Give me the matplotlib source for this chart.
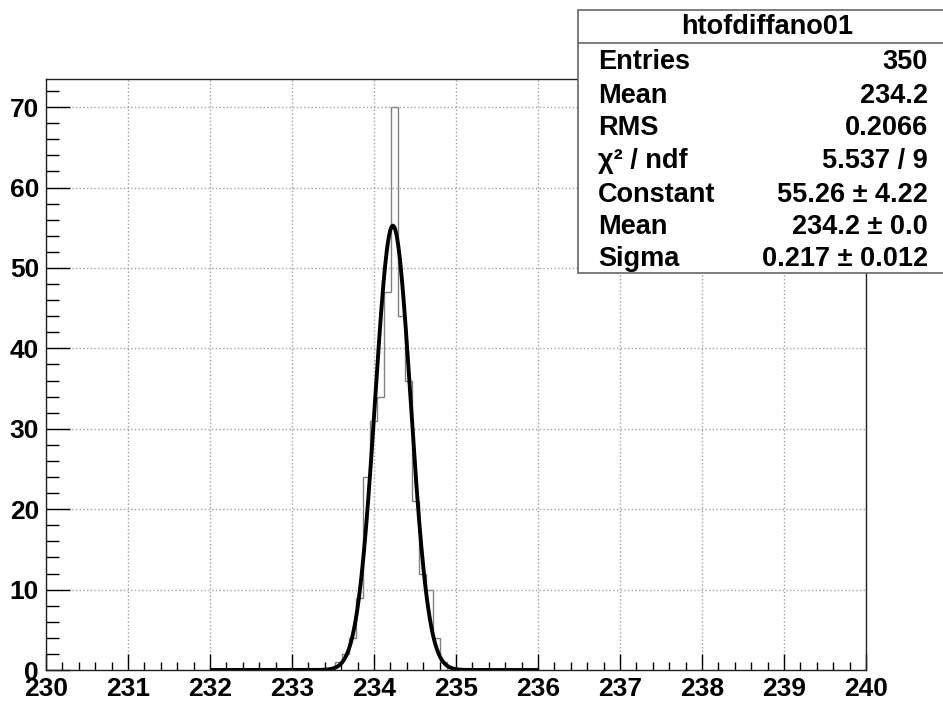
import numpy as np
import matplotlib
matplotlib.use("Agg")
import matplotlib.pyplot as plt
from matplotlib.patches import Rectangle
from matplotlib.ticker import MultipleLocator

plt.rcParams['font.family'] = ['Liberation Sans', 'DejaVu Sans']
plt.rcParams['font.weight'] = 'bold'

# histogram htofdiffano01
hist_name = "htofdiffano01"
bin_low = 233.52          # lower edge of first filled bin
bin_width = 0.086
counts = [1, 2, 4, 9, 24, 31, 34, 47, 70, 44, 36, 21, 12, 10, 4, 1]

# gaussian fit result
fit_const = 55.26
fit_const_err = 4.22
fit_mean = 234.23
fit_mean_err = 0.0
fit_sigma = 0.217
fit_sigma_err = 0.012
fit_range = (232.0, 236.0)
chi2, ndf = 5.537, 9

# stats box entries
stat_labels = ["Entries", "Mean", "RMS", "\u03c7\u00b2 / ndf", "Constant", "Mean", "Sigma"]
stat_values = ["350", "234.2", "0.2066", "%.3f / %d" % (chi2, ndf),
               "%.2f \u00b1 %.2f" % (fit_const, fit_const_err),
               "%.1f \u00b1 %.1f" % (fit_mean, fit_mean_err),
               "%.3f \u00b1 %.3f" % (fit_sigma, fit_sigma_err)]

W, H = 943, 704
fig = plt.figure(figsize=(W / 100, H / 100), dpi=100)
ax = fig.add_axes([46 / W, 1 - 670 / H, (866 - 46) / W, (670 - 79) / H])

edges = bin_low + bin_width * np.arange(len(counts) + 1)
ax.stairs(counts, edges, color='#808080', lw=1.0)

xs = np.linspace(fit_range[0], fit_range[1], 600)
ys = fit_const * np.exp(-0.5 * ((xs - fit_mean) / fit_sigma) ** 2)
ax.plot(xs, ys, color='black', lw=2.8, solid_capstyle='butt')

ax.set_xlim(230, 240)
ax.set_ylim(0, 73.5)
ax.xaxis.set_major_locator(MultipleLocator(1))
ax.xaxis.set_minor_locator(MultipleLocator(0.2))
ax.yaxis.set_major_locator(MultipleLocator(10))
ax.yaxis.set_minor_locator(MultipleLocator(2))
ax.grid(True, which='major', ls=':', color='#a0a0a0', lw=1.0)
ax.tick_params(axis='x', which='major', direction='in', length=11.5, width=1, pad=5, labelsize=19)
ax.tick_params(axis='x', which='minor', direction='in', length=5.8, width=1)
ax.tick_params(axis='y', which='major', direction='in', length=17, width=1, pad=5, labelsize=19)
ax.tick_params(axis='y', which='minor', direction='in', length=9.5, width=1)
for s in ax.spines.values():
    s.set_linewidth(1.0)
    s.set_color('#222222')

# stats box (pixel coordinates from top-left)
bx0, by0, bx1, by1 = 578, 10, 952, 273
sep = 43
tf = fig.transFigure
fig.patches.append(Rectangle((bx0 / W, 1 - by1 / H), (bx1 - bx0) / W, (by1 - by0) / H,
                             transform=tf, facecolor='white', edgecolor='#666666', lw=1.2, zorder=5))
fig.add_artist(plt.Line2D([bx0 / W, bx1 / W], [1 - sep / H, 1 - sep / H], transform=tf,
                          color='#666666', lw=1.2, zorder=6))
fig.text((bx0 + bx1) / 2 / W + 2 / W, 1 - 27 / H, hist_name, ha='center', va='center',
         fontsize=19.5, fontweight='bold', zorder=7)
row_y = [62, 96, 128, 161, 195, 227, 259]
for lab, val, y in zip(stat_labels, stat_values, row_y):
    fig.text(598 / W, 1 - y / H, lab, ha='left', va='center', fontsize=19.5, fontweight='bold', zorder=7)
    fig.text(928 / W, 1 - y / H, val, ha='right', va='center', fontsize=19.5, fontweight='bold', zorder=7)

fig.savefig("out.png", dpi=100)
